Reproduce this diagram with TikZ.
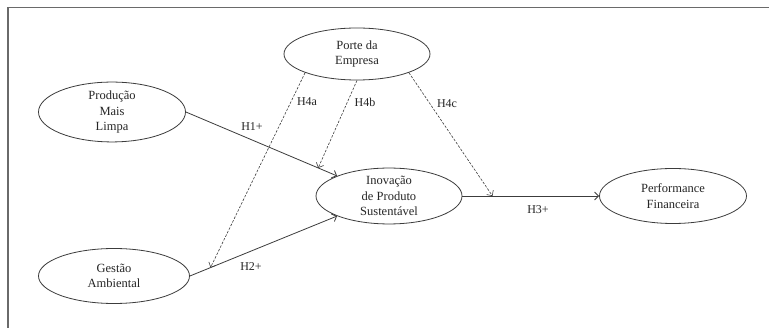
\documentclass[tikz,border=0pt]{standalone}
\usepackage{fontspec}
\setmainfont{Liberation Serif}
\usetikzlibrary{shapes.geometric,arrows.meta}
\definecolor{ln}{HTML}{3C3C3C}
\definecolor{fr}{HTML}{6A6A6A}
\tikzset{
  var/.style={ellipse, draw=ln, line width=0.8pt, inner sep=0pt, align=center,
    font=\fontsize{12.5}{15.5}\selectfont, text=black!85},
  lbl/.style={font=\fontsize{12}{14}\selectfont, text=black!85, inner sep=0pt},
  hyp/.style={draw=ln, line width=0.8pt, -{Straight Barb[length=4pt,width=8pt]}},
  mod/.style={draw=ln, line width=0.6pt, dash pattern=on 2.5pt off 1.5pt, -{Straight Barb[length=4pt,width=8pt]}}
}
\begin{document}
\begin{tikzpicture}[x=1pt,y=-1pt]
\useasboundingbox (0,0) rectangle (769,328);
\fill[white] (0,0) rectangle (769,328);
\draw[fr, line width=1.2pt] (8,328) -- (8,7.5) -- (769,7.5);

\node[var, minimum width=146, minimum height=52] (porte) at (357,54) {Porte da\\Empresa};
\node[var, minimum width=147, minimum height=54] (prod) at (112,112) {Produção\\Mais\\Limpa};
\node[var, minimum width=151, minimum height=55] (gest) at (114,276) {Gestão\\Ambiental};
\node[var, minimum width=146, minimum height=55] (inov) at (389,196) {Inovação\\de Produto\\Sustentável};
\node[var, minimum width=147, minimum height=55] (perf) at (673,196) {Performance\\Financeira};

\path (prod.east) -- coordinate[pos=0.875] (m1) (inov.north west);
\path (gest.east) -- coordinate[pos=0.14] (m2) (inov.south west);
\path (inov.east) -- coordinate[pos=0.22] (m3) (perf.west);

\draw[hyp] (prod.east) -- (inov.north west);
\draw[hyp] (gest.east) -- (inov.south west);
\draw[hyp] (inov.east) -- (perf.west);

\draw[mod] (porte.south west) -- (m2);
\draw[mod] (porte.south) -- (m1);
\draw[mod] (porte.south east) -- (m3);

\node[lbl] (h1) at (252,127) {H1+};
\node[lbl] (h2) at (251,267) {H2+};
\node[lbl] (h3) at (538,210) {H3+};
\node[lbl] (h4a) at (307,102) {H4a};
\node[lbl] (h4b) at (365,102) {H4b};
\node[lbl] (h4c) at (447,104) {H4c};
\end{tikzpicture}
\end{document}
